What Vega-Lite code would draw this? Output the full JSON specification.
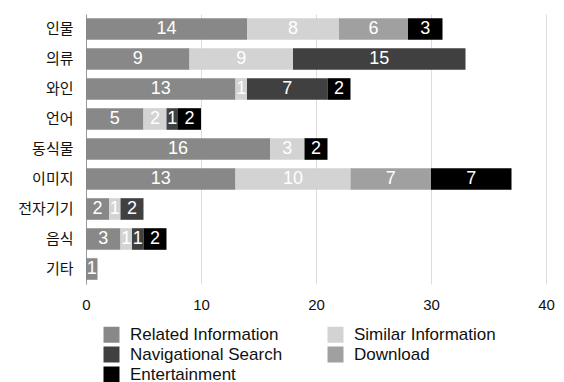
{
  "$schema": "https://vega.github.io/schema/vega-lite/v6.json",
  "autosize": {"type": "none"},
  "width": 460,
  "height": 270,
  "padding": {"left": 86, "top": 14, "right": 18, "bottom": 98},
  "background": "white",
  "data": {"values": [
    {"cat": "인물", "type": "Related Information", "v": 14},
    {"cat": "인물", "type": "Similar Information", "v": 8},
    {"cat": "인물", "type": "Download", "v": 6},
    {"cat": "인물", "type": "Entertainment", "v": 3},
    {"cat": "의류", "type": "Related Information", "v": 9},
    {"cat": "의류", "type": "Similar Information", "v": 9},
    {"cat": "의류", "type": "Navigational Search", "v": 15},
    {"cat": "와인", "type": "Related Information", "v": 13},
    {"cat": "와인", "type": "Similar Information", "v": 1},
    {"cat": "와인", "type": "Navigational Search", "v": 7},
    {"cat": "와인", "type": "Entertainment", "v": 2},
    {"cat": "언어", "type": "Related Information", "v": 5},
    {"cat": "언어", "type": "Similar Information", "v": 2},
    {"cat": "언어", "type": "Navigational Search", "v": 1},
    {"cat": "언어", "type": "Entertainment", "v": 2},
    {"cat": "동식물", "type": "Related Information", "v": 16},
    {"cat": "동식물", "type": "Similar Information", "v": 3},
    {"cat": "동식물", "type": "Entertainment", "v": 2},
    {"cat": "이미지", "type": "Related Information", "v": 13},
    {"cat": "이미지", "type": "Similar Information", "v": 10},
    {"cat": "이미지", "type": "Download", "v": 7},
    {"cat": "이미지", "type": "Entertainment", "v": 7},
    {"cat": "전자기기", "type": "Related Information", "v": 2},
    {"cat": "전자기기", "type": "Similar Information", "v": 1},
    {"cat": "전자기기", "type": "Navigational Search", "v": 2},
    {"cat": "음식", "type": "Related Information", "v": 3},
    {"cat": "음식", "type": "Similar Information", "v": 1},
    {"cat": "음식", "type": "Navigational Search", "v": 1},
    {"cat": "음식", "type": "Entertainment", "v": 2},
    {"cat": "기타", "type": "Related Information", "v": 1}
  ]},
  "transform": [
    {"calculate": "indexof(['Related Information','Similar Information','Navigational Search','Download','Entertainment'], datum.type)", "as": "ord"},
    {"stack": "v", "groupby": ["cat"], "sort": [{"field": "ord", "order": "ascending"}], "as": ["x0", "x1"]},
    {"calculate": "(datum.x0 + datum.x1) / 2", "as": "mid"}
  ],
  "encoding": {
    "y": {
      "field": "cat", "type": "nominal",
      "sort": ["인물", "의류", "와인", "언어", "동식물", "이미지", "전자기기", "음식", "기타"],
      "scale": {"paddingInner": 0.28, "paddingOuter": 0.14},
      "axis": {
        "title": null, "ticks": false, "domain": true, "domainColor": "#999999",
        "labelFont": "Noto Sans CJK KR", "labelFontSize": 15, "labelColor": "#111111",
        "labelPadding": 13
      }
    }
  },
  "layer": [
    {
      "mark": {"type": "bar"},
      "encoding": {
        "x": {
          "field": "x0", "type": "quantitative",
          "scale": {"domain": [0, 40], "nice": false},
          "axis": {
            "title": null, "values": [0, 10, 20, 30, 40], "grid": true, "gridColor": "#dddddd",
            "domain": false, "ticks": false, "labelFont": "Liberation Sans", "labelFontSize": 15,
            "labelColor": "#111111", "labelPadding": 13, "labelFlush": false
          }
        },
        "x2": {"field": "x1"},
        "color": {
          "field": "type", "type": "nominal",
          "scale": {
            "domain": ["Related Information", "Similar Information", "Navigational Search", "Download", "Entertainment"],
            "range": ["#888888", "#d3d3d3", "#404040", "#a0a0a0", "#000000"]
          },
          "legend": {
            "title": null, "orient": "none", "legendX": 17, "legendY": 312,
            "direction": "horizontal", "columns": 2, "gridAlign": "all",
            "symbolType": "square", "symbolSize": 256, "symbolStrokeWidth": 0, "symbolOpacity": 1,
            "labelFont": "Liberation Sans", "labelFontSize": 17, "labelColor": "#111111",
            "labelLimit": 180, "labelOffset": 10, "columnPadding": 44, "rowPadding": 2
          }
        }
      }
    },
    {
      "mark": {"type": "text", "color": "white", "font": "Liberation Sans", "fontSize": 18, "baseline": "middle", "align": "center"},
      "encoding": {
        "x": {"field": "mid", "type": "quantitative"},
        "text": {"field": "v", "type": "quantitative"}
      }
    }
  ],
  "config": {"view": {"stroke": null}}
}
